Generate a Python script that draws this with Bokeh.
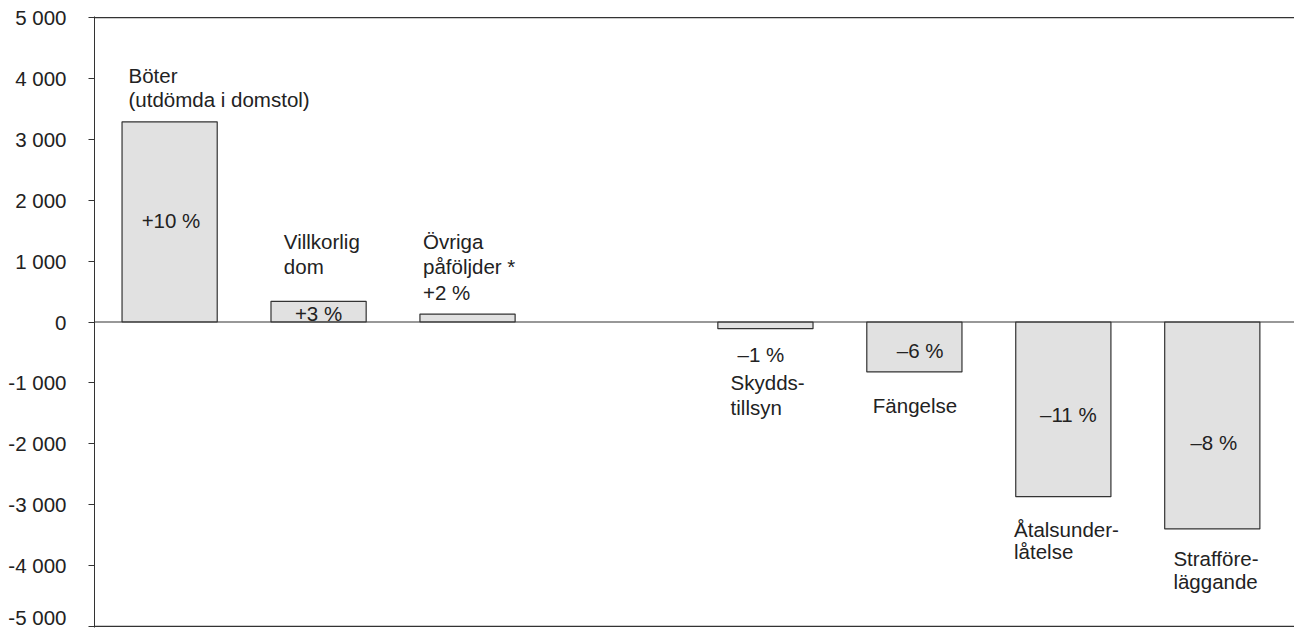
from bokeh.plotting import figure
from bokeh.models import Range1d, Span, FixedTicker, ColumnDataSource
from bokeh.core.properties import value
from bokeh.embed import file_html
from bokeh.resources import INLINE

# Data
categories = ["Böter", "Villkorlig dom", "Övriga påföljder *", "Skyddstillsyn",
              "Fängelse", "Åtalsunderlåtelse", "Strafföreläggande"]
slots = [0, 1, 2, 4, 5, 6, 7]
changes = [3290, 340, 130, -110, -820, -2870, -3400]
tick_values = [-5000, -4000, -3000, -2000, -1000, 0, 1000, 2000, 3000, 4000, 5000]
tick_labels = ["-5 000", "-4 000", "-3 000", "-2 000", "-1 000", "0",
               "1 000", "2 000", "3 000", "4 000", "5 000"]

# Annotation texts (text, x in slot units, y in chart units)
label_texts = ["Böter", "(utdömda i domstol)", "+10 %",
               "Villkorlig", "dom", "+3 %",
               "Övriga", "påföljder *", "+2 %",
               "–1 %", "Skydds-", "tillsyn",
               "–6 %", "Fängelse",
               "–11 %", "Åtalsunder-", "låtelse",
               "–8 %", "Strafföre-", "läggande"]
label_x = [-0.276, -0.276, -0.188,
           0.767, 0.767, 0.841,
           1.701, 1.701, 1.701,
           3.813, 3.766, 3.766,
           4.882, 4.721,
           5.844, 5.669, 5.669,
           6.853, 6.739, 6.739]
label_y = [4055, 3661, 1672,
           1327, 916, 144,
           1327, 916, 489,
           -532, -993, -1404,
           -466, -1368,
           -1516, -3406, -3768,
           -1976, -3883, -4261]

FONT = "Liberation Sans"
TXT = "#222222"
LINE = "#333333"

p = figure(width=1294, height=628, output_backend="svg", toolbar_location=None,
           x_range=Range1d(-0.5044, 7.552), y_range=Range1d(-5020, 5020),
           min_border_left=94, min_border_right=0, min_border_top=16, min_border_bottom=1)
p.outline_line_color = None
p.xgrid.visible = False
p.ygrid.visible = False
p.xaxis.visible = False

ya = p.yaxis[0]
ya.ticker = FixedTicker(ticks=tick_values)
ya.major_label_overrides = {v: s for v, s in zip(tick_values, tick_labels)}
ya.major_label_text_font = FONT
ya.major_label_text_font_size = "20.5px"
ya.major_label_text_color = TXT
ya.major_label_standoff = 22
ya.axis_line_color = LINE
ya.major_tick_line_color = LINE
ya.major_tick_out = 6
ya.major_tick_in = 0
ya.minor_tick_line_color = None

src = ColumnDataSource(dict(x=slots, top=changes, cat=categories))
p.vbar(x="x", top="top", bottom=0, width=0.639, source=src,
       fill_color="#e1e1e1", line_color=LINE, line_width=1.2)

for yv in (5000, 0, -5000):
    p.add_layout(Span(location=yv, dimension="width", line_color=LINE, line_width=1.2))

lsrc = ColumnDataSource(dict(x=label_x, y=label_y, t=label_texts))
p.text(x="x", y="y", text="t", source=lsrc, text_font=value(FONT),
       text_font_size="20.5px", text_color=TXT, text_align="left", text_baseline="middle")

open("out.html", "w").write(file_html(p, INLINE))
